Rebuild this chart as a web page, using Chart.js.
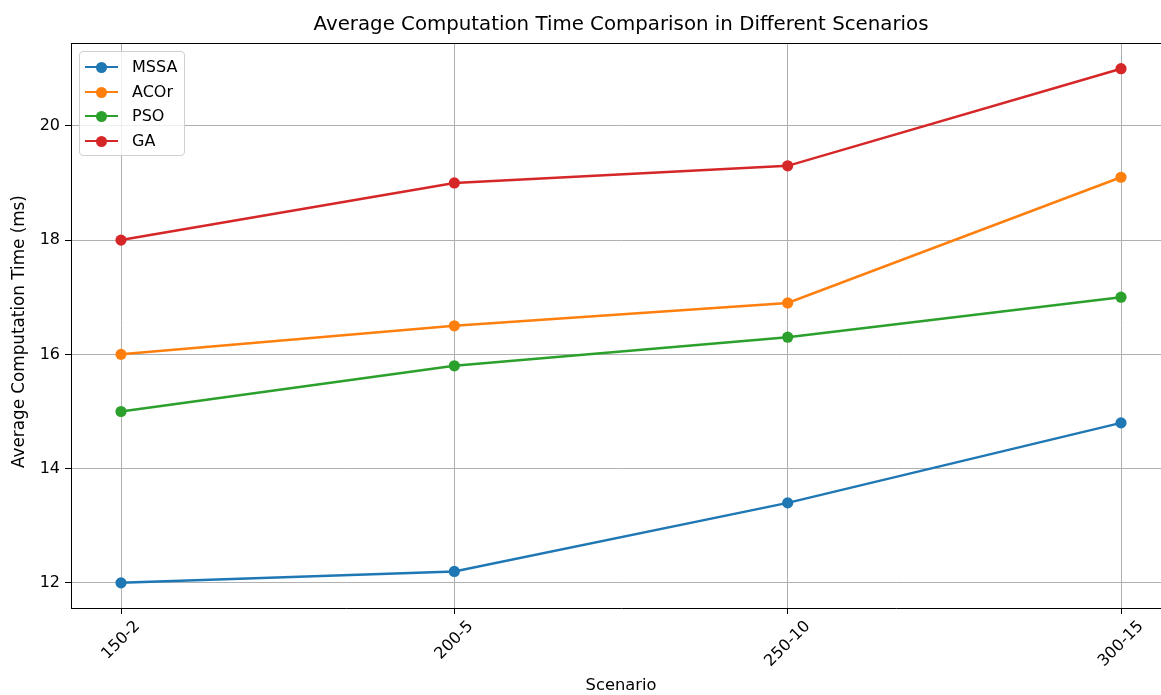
<!DOCTYPE html>
<html><head><meta charset="utf-8">
<script src="https://cdn.jsdelivr.net/npm/chart.js@4"></script>
<style>
html,body{margin:0;padding:0;overflow:hidden;background:#fff;width:1161px;height:695px}
#wrap{position:absolute;left:0;top:0;width:1200px;height:695px}
#legend{position:absolute;left:79px;top:51px;width:104px;height:103px;border:1px solid #d0d0d0;border-radius:4px;background:rgba(255,255,255,0.8);font-family:'DejaVu Sans',sans-serif;font-size:16px;color:#000}
.ln{position:absolute;left:5px;width:33px;height:2px}
.dt{position:absolute;left:16px;width:11px;height:11px;border-radius:50%}
.tx{position:absolute;left:52px;line-height:20px;height:20px}
</style>
</head><body>
<div id="wrap"><canvas id="c" width="1200" height="695"></canvas>
<div id="legend"></div></div>
<script>
const categories = ['150-2','200-5','250-10','300-15'];
const mssa = [12, 12.2, 13.4, 14.8];
const acor = [16, 16.5, 16.9, 19.1];
const pso  = [15, 15.8, 16.3, 17];
const ga   = [18, 19, 19.3, 21];
const yTicks = [12, 14, 16, 18, 20];
const seriesNames = ['MSSA','ACOr','PSO','GA'];
const seriesValues = [mssa, acor, pso, ga];
const colors = ['#1f77b4','#ff7f0e','#2ca02c','#d62728'];
const titleText = 'Average Computation Time Comparison in Different Scenarios';
const xLabel = 'Scenario';
const yLabel = 'Average Computation Time (ms)';

const FONT = "'DejaVu Sans', sans-serif";

// legend (HTML text)
const lg = document.getElementById('legend');
const rowCenters = [15, 40, 64, 89];
seriesNames.forEach((n,i)=>{
  const c = rowCenters[i];
  lg.insertAdjacentHTML('beforeend',
    `<div class="ln" style="top:${c-1}px;background:${colors[i]}"></div>`+
    `<div class="dt" style="top:${c-5.5}px;background:${colors[i]}"></div>`+
    `<div class="tx" style="top:${c-10}px">${n}</div>`);
});

const decor = {
  id:'decor',
  afterDraw(chart){
    const ctx = chart.ctx, a = chart.chartArea;
    ctx.save();
    // top spine
    ctx.strokeStyle='#000'; ctx.lineWidth=1;
    ctx.beginPath(); ctx.moveTo(a.left, a.top+0.5); ctx.lineTo(a.right, a.top+0.5); ctx.stroke();
    ctx.fillStyle='#000';
    // title
    ctx.font = `19.8px ${FONT}`; ctx.textAlign='center'; ctx.textBaseline='middle';
    ctx.fillText(titleText, (a.left+a.right)/2, 25);
    // x label
    ctx.font = `16.3px ${FONT}`;
    ctx.fillText(xLabel, (a.left+a.right)/2, 686);
    // y label
    ctx.save(); ctx.translate(20, (a.top+a.bottom)/2 + 6); ctx.rotate(-Math.PI/2);
    ctx.font = `16.8px ${FONT}`;
    ctx.fillText(yLabel, 0, 0); ctx.restore();
    // rotated x tick labels, centred on tick
    ctx.font = `16px ${FONT}`;
    const xs = chart.scales.x;
    categories.forEach((lab,i)=>{
      const x = xs.getPixelForValue(i);
      const w = ctx.measureText(lab).width, h = 14;
      const half = (w + h) * Math.SQRT1_2 / 2;
      const cy = a.bottom + 11 + half;
      ctx.save(); ctx.translate(x, cy); ctx.rotate(-Math.PI/4);
      ctx.fillText(lab, 0, 0); ctx.restore();
    });
    ctx.restore();
  }
};

new Chart(document.getElementById('c'), {
  type:'line',
  data:{
    datasets: seriesNames.map((n,i)=>({
      label:n,
      data: seriesValues[i].map((v,j)=>({x:j,y:v})),
      borderColor:colors[i], backgroundColor:colors[i],
      pointBackgroundColor:colors[i], pointBorderColor:colors[i],
      borderWidth:2.5, pointRadius:5.6, pointBorderWidth:0, tension:0, fill:false
    }))
  },
  options:{
    responsive:false, animation:false, devicePixelRatio:1,
    layout:{padding:{top:43,right:29,left:0,bottom:0}},
    plugins:{legend:{display:false},title:{display:false},tooltip:{enabled:false}},
    scales:{
      x:{type:'linear', min:-0.15, max:3.15,
        afterBuildTicks:s=>{s.ticks = categories.map((_,i)=>({value:i}));},
        afterFit:s=>{s.height = 87;},
        ticks:{callback:()=>'', minRotation:0, maxRotation:0},
        grid:{color:'#b0b0b0', lineWidth:1, tickColor:'#000', tickLength:6},
        border:{display:true,color:'#000',width:1}
      },
      y:{min:11.56, max:21.45,
        afterBuildTicks:s=>{s.ticks = yTicks.map(v=>({value:v}));},
        afterFit:s=>{s.width = 71;},
        ticks:{font:{family:FONT,size:16}, color:'#000', padding:5},
        grid:{color:'#b0b0b0', lineWidth:1, tickColor:'#000', tickLength:6},
        border:{display:true,color:'#000',width:1}
      }
    }
  },
  plugins:[decor]
});
</script>
</body></html>
